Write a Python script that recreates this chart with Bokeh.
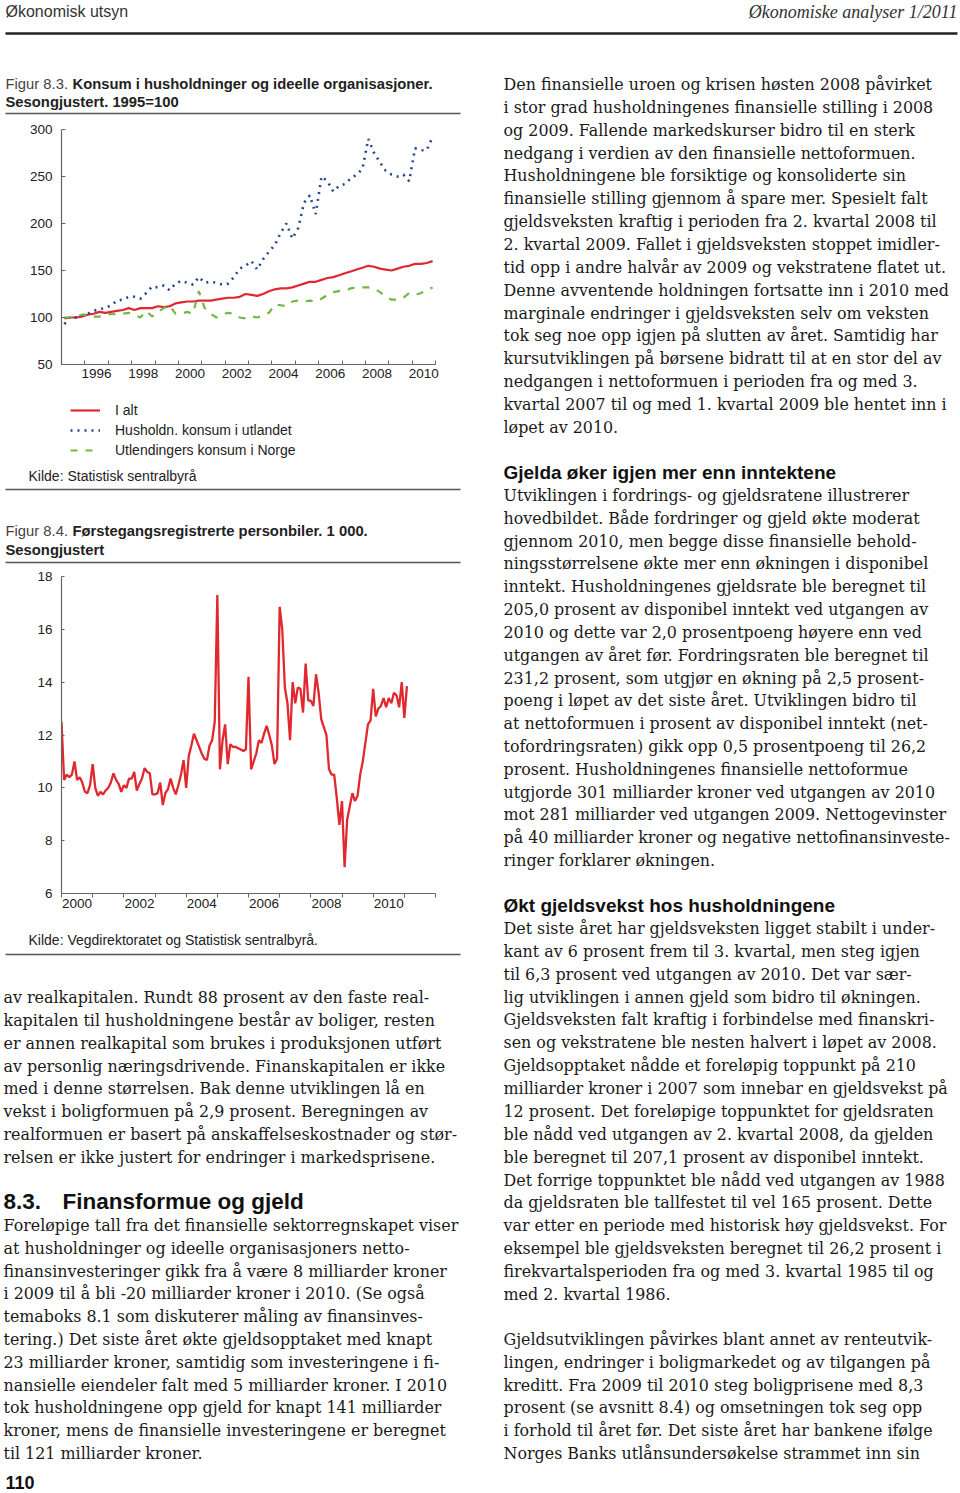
import numpy as np
from bokeh.plotting import figure
from bokeh.models import Range1d, FixedTicker, Legend, LegendItem, CustomJSTickFormatter
from bokeh.layouts import column, row
from bokeh.core.properties import value
from bokeh.embed import file_html
from bokeh.resources import INLINE

# ---------------- DATA ----------------
# Figur 8.3: quarterly, 1995Q1-2010Q4, 1995=100
q_start_year = 1995
i_alt = [99, 100, 100, 101,
         103, 104, 106, 105,
         106, 107, 108, 110,
         108, 110, 110, 110,
         112, 111, 112, 115,
         116, 117, 117, 118,
         118, 118, 119, 120,
         121, 121, 122, 125,
         124, 123, 125, 128,
         130, 131, 131, 132,
         134, 136, 138, 138,
         140, 142, 143, 145,
         147, 149, 151, 153,
         155, 154, 152, 151,
         150, 152, 154, 155,
         157, 157, 158, 160]
husholdn_utland = [93, 101, 100, 102,
                   104, 107, 109, 110,
                   113, 118, 119, 122,
                   122, 120, 126, 133,
                   132, 134, 129, 136,
                   139, 137, 135, 143,
                   137, 138, 137, 135,
                   136, 143, 152, 155,
                   160, 151, 162, 170,
                   177, 190, 200, 184,
                   195, 222, 230, 210,
                   250, 245, 234, 240,
                   242, 248, 252, 258,
                   290, 275, 265, 256,
                   252, 250, 252, 245,
                   280, 278, 278, 292]
utlendinger_norge = [100, 100, 101, 103,
                     103, 101, 101, 102,
                     104, 103, 104, 105,
                     103, 100, 107, 101,
                     106, 110, 113, 104,
                     104, 106, 104, 128,
                     110, 104, 100, 103,
                     105, 104, 100, 99,
                     101, 100, 102, 105,
                     114, 113, 112, 117,
                     118, 117, 118, 117,
                     120, 124, 127, 128,
                     128, 131, 132, 132,
                     132, 131, 127, 122,
                     119, 119, 121, 126,
                     124, 126, 129, 132]
c1_series_names = ["I alt", "Husholdn. konsum i utlandet", "Utlendingers konsum i Norge"]
c1_label_years = [1996, 1998, 2000, 2002, 2004, 2006, 2008, 2010]
c1_year_ticks = list(range(1995, 2012))
c1_y_ticks = [50, 100, 150, 200, 250, 300]

# Figur 8.4: monthly, from January 2000, 1 000 cars
m_start_year = 2000
personbiler = [12.5, 10.3, 10.5, 10.4, 10.5, 11.0, 10.3, 10.4, 10.2, 9.85, 9.8, 10.1,
               10.9, 10.0, 9.7, 9.85, 9.75, 9.9, 10.0, 10.2, 10.55, 10.3, 10.15, 9.85,
               10.1, 10.0, 10.35, 10.35, 10.6, 9.9, 10.15, 10.35, 10.75, 10.6, 10.55, 9.75,
               9.75, 9.8, 10.2, 9.35, 9.8, 9.95, 10.35, 10.0, 9.75, 10.1, 10.5, 11.05,
               10.0, 11.2, 11.6, 12.05, 11.8, 11.55, 11.3, 11.1, 11.05, 11.6, 11.8, 12.5,
               17.3, 10.7, 11.8, 12.4, 10.9, 11.65, 11.55, 11.55, 11.5, 11.45, 11.4, 11.45,
               14.2, 10.7, 11.0, 11.3, 11.8, 11.7, 12.05, 12.35, 12.0, 11.6, 10.9, 11.1,
               16.85, 16.0, 13.8, 13.2, 11.8, 14.0, 13.2, 13.8, 13.75, 12.85, 14.7, 13.3,
               13.3, 13.1, 14.3, 13.6, 12.6, 12.3, 12.0, 10.7, 10.5, 10.5, 9.6, 8.6,
               9.5, 7.0, 8.8, 9.3, 9.8, 9.5, 9.7, 10.5, 11.0, 11.7, 12.4, 12.55,
               13.75, 12.7, 13.0, 13.1, 13.4, 13.05, 13.4, 13.2, 13.6, 13.5, 13.05, 14.0,
               12.65, 13.85]
c2_label_years = [2000, 2002, 2004, 2006, 2008, 2010]
c2_year_ticks = list(range(2000, 2013))
c2_y_ticks = [6, 8, 10, 12, 14, 16, 18]

# ---------------- TEXT ----------------
header_left = "Økonomisk utsyn"
header_right = "Økonomiske analyser 1/2011"
fig83_num = "Figur 8.3."
fig83_title = ["Konsum i husholdninger og ideelle organisasjoner.", "Sesongjustert. 1995=100"]
fig83_source = "Kilde: Statistisk sentralbyrå"
fig84_num = "Figur 8.4."
fig84_title = ["Førstegangsregistrerte personbiler. 1 000.", "Sesongjustert"]
fig84_source = "Kilde: Vegdirektoratet og Statistisk sentralbyrå."

left_para1 = [
    "av realkapitalen. Rundt 88 prosent av den faste real-",
    "kapitalen til husholdningene består av boliger, resten",
    "er annen realkapital som brukes i produksjonen utført",
    "av personlig næringsdrivende. Finanskapitalen er ikke",
    "med i denne størrelsen. Bak denne utviklingen lå en",
    "vekst i boligformuen på 2,9 prosent. Beregningen av",
    "realformuen er basert på anskaffelseskostnader og stør-",
    "relsen er ikke justert for endringer i markedsprisene.",
]
section_num = "8.3."
section_title = "Finansformue og gjeld"
left_para2 = [
    "Foreløpige tall fra det finansielle sektorregnskapet viser",
    "at husholdninger og ideelle organisasjoners netto-",
    "finansinvesteringer gikk fra å være 8 milliarder kroner",
    "i 2009 til å bli -20 milliarder kroner i 2010. (Se også",
    "temaboks 8.1 som diskuterer måling av finansinves-",
    "tering.) Det siste året økte gjeldsopptaket med knapt",
    "23 milliarder kroner, samtidig som investeringene i fi-",
    "nansielle eiendeler falt med 5 milliarder kroner. I 2010",
    "tok husholdningene opp gjeld for knapt 141 milliarder",
    "kroner, mens de finansielle investeringene er beregnet",
    "til 121 milliarder kroner.",
]
page_number = "110"

right_para1 = [
    "Den finansielle uroen og krisen høsten 2008 påvirket",
    "i stor grad husholdningenes finansielle stilling i 2008",
    "og 2009. Fallende markedskurser bidro til en sterk",
    "nedgang i verdien av den finansielle nettoformuen.",
    "Husholdningene ble forsiktige og konsoliderte sin",
    "finansielle stilling gjennom å spare mer. Spesielt falt",
    "gjeldsveksten kraftig i perioden fra 2. kvartal 2008 til",
    "2. kvartal 2009. Fallet i gjeldsveksten stoppet imidler-",
    "tid opp i andre halvår av 2009 og vekstratene flatet ut.",
    "Denne avventende holdningen fortsatte inn i 2010 med",
    "marginale endringer i gjeldsveksten selv om veksten",
    "tok seg noe opp igjen på slutten av året. Samtidig har",
    "kursutviklingen på børsene bidratt til at en stor del av",
    "nedgangen i nettoformuen i perioden fra og med 3.",
    "kvartal 2007 til og med 1. kvartal 2009 ble hentet inn i",
    "løpet av 2010.",
]
right_head2 = "Gjelda øker igjen mer enn inntektene"
right_para2 = [
    "Utviklingen i fordrings- og gjeldsratene illustrerer",
    "hovedbildet. Både fordringer og gjeld økte moderat",
    "gjennom 2010, men begge disse finansielle behold-",
    "ningsstørrelsene økte mer enn økningen i disponibel",
    "inntekt. Husholdningenes gjeldsrate ble beregnet til",
    "205,0 prosent av disponibel inntekt ved utgangen av",
    "2010 og dette var 2,0 prosentpoeng høyere enn ved",
    "utgangen av året før. Fordringsraten ble beregnet til",
    "231,2 prosent, som utgjør en økning på 2,5 prosent-",
    "poeng i løpet av det siste året. Utviklingen bidro til",
    "at nettoformuen i prosent av disponibel inntekt (net-",
    "tofordringsraten) gikk opp 0,5 prosentpoeng til 26,2",
    "prosent. Husholdningenes finansielle nettoformue",
    "utgjorde 301 milliarder kroner ved utgangen av 2010",
    "mot 281 milliarder ved utgangen 2009. Nettogevinster",
    "på 40 milliarder kroner og negative nettofinansinveste-",
    "ringer forklarer økningen.",
]
right_head3 = "Økt gjeldsvekst hos husholdningene"
right_para3 = [
    "Det siste året har gjeldsveksten ligget stabilt i under-",
    "kant av 6 prosent frem til 3. kvartal, men steg igjen",
    "til 6,3 prosent ved utgangen av 2010. Det var sær-",
    "lig utviklingen i annen gjeld som bidro til økningen.",
    "Gjeldsveksten falt kraftig i forbindelse med finanskri-",
    "sen og vekstratene ble nesten halvert i løpet av 2008.",
    "Gjeldsopptaket nådde et foreløpig toppunkt på 210",
    "milliarder kroner i 2007 som innebar en gjeldsvekst på",
    "12 prosent. Det foreløpige toppunktet for gjeldsraten",
    "ble nådd ved utgangen av 2. kvartal 2008, da gjelden",
    "ble beregnet til 207,1 prosent av disponibel inntekt.",
    "Det forrige toppunktet ble nådd ved utgangen av 1988",
    "da gjeldsraten ble tallfestet til vel 165 prosent. Dette",
    "var etter en periode med historisk høy gjeldsvekst. For",
    "eksempel ble gjeldsveksten beregnet til 26,2 prosent i",
    "firekvartalsperioden fra og med 3. kvartal 1985 til og",
    "med 2. kvartal 1986.",
]
right_para4 = [
    "Gjeldsutviklingen påvirkes blant annet av renteutvik-",
    "lingen, endringer i boligmarkedet og av tilgangen på",
    "kreditt. Fra 2009 til 2010 steg boligprisene med 8,3",
    "prosent (se avsnitt 8.4) og omsetningen tok seg opp",
    "i forhold til året før. Det siste året har bankene ifølge",
    "Norges Banks utlånsundersøkelse strammet inn sin",
]

# ---------------- STYLE ----------------
SANS = "Liberation Sans"
SERIF = "DejaVu Serif"
BODY_SIZE = "15.9px"
BODY_COLOR = "#1a1a1a"
PITCH = 22.86
RED = "#e0282e"
BLUE = "#24468e"
GREEN = "#72b844"
AXIS_COLOR = "#666666"

W = 960
H = 1493
HEAD_H = 60
LEFT_W = 470
RIGHT_W = W - LEFT_W
# shared horizontal borders of every figure in the left column (chart frames)
BL = 61
BR = 35


def canvas(w, h, bl=0, br=0):
    # data units == pixel units of the figure (frame spans bl .. w-br)
    p = figure(width=w, height=h, x_range=Range1d(bl, w - br), y_range=Range1d(h, 0),
               x_axis_location=None, y_axis_location=None, toolbar_location=None,
               output_backend="svg", min_border_left=bl, min_border_right=br,
               min_border_top=0, min_border_bottom=0, outline_line_color=None)
    p.grid.visible = False
    p.background_fill_color = "white"
    p.border_fill_color = "white"
    return p


def put(p, x, y, txt, font=SERIF, size=BODY_SIZE, style="normal", color=BODY_COLOR, align="left"):
    p.text(x=[x], y=[y], text=[txt], text_font=value(font), text_font_size=size,
           text_font_style=style, text_color=color, text_align=align, text_baseline="middle",
           level="annotation")


def para(p, x, y0, lines, pitch=PITCH):
    n = len(lines)
    p.text(x=[x] * n, y=[y0 + k * pitch for k in range(n)], text=lines,
           text_font=value(SERIF), text_font_size=BODY_SIZE, text_color=BODY_COLOR,
           text_align="left", text_baseline="middle", level="annotation")


def rule(p, x0, x1, y, width=1.3, color="#555555"):
    p.segment(x0=[x0], y0=[y], x1=[x1], y1=[y], line_width=width, line_color=color,
              level="annotation")


def style_axes(p):
    p.grid.visible = False
    for ax in p.axis:
        ax.axis_line_color = AXIS_COLOR
        ax.axis_line_width = 1.2
        ax.major_tick_line_color = AXIS_COLOR
        ax.minor_tick_line_color = AXIS_COLOR
        ax.major_label_text_font = SANS
        ax.major_label_text_font_size = "13.5px"
        ax.major_label_text_color = "#222222"


# ---------------- HEADER ----------------
head = canvas(W, HEAD_H)
put(head, 5, 11, header_left, font=SANS, size="16px", color="#333333")
put(head, 957, 11, header_right, font="Liberation Serif", size="18px", style="italic",
    color="#333333", align="right")
rule(head, 5, 957, 33, width=2.4, color="#222222")

# ---------------- LEFT COLUMN ----------------
# A: title of figure 8.3 (y 60..118)
pa = canvas(LEFT_W, 58, BL, BR)
put(pa, 5, 23, fig83_num, font=SANS, size="14.8px", color="#444444")
put(pa, 72, 23, fig83_title[0], font=SANS, size="14.8px", style="bold", color="#222222")
put(pa, 5, 41, fig83_title[1], font=SANS, size="14.8px", style="bold", color="#222222")
rule(pa, 5, 460, 53)

# B: chart 8.3 (y 118..392)
p1 = figure(width=LEFT_W, height=274, x_range=Range1d(1995, 2011), y_range=Range1d(50, 300),
            toolbar_location=None, output_backend="svg", outline_line_color=None,
            min_border_left=BL, min_border_right=BR, min_border_top=11, min_border_bottom=28)
xq = q_start_year + (np.arange(len(i_alt)) + 0.5) / 4.0
p1.line(xq, i_alt, line_color=RED, line_width=2.2)
p1.line(xq, husholdn_utland, line_color=BLUE, line_width=2.6, line_dash="2 5")
p1.line(xq, utlendinger_norge, line_color=GREEN, line_width=2.2, line_dash="7 8")
style_axes(p1)
p1.xaxis.ticker = FixedTicker(ticks=[y + 0.5 for y in c1_label_years], minor_ticks=c1_year_ticks)
p1.xaxis.formatter = CustomJSTickFormatter(code="return Math.floor(tick).toString();")
p1.xaxis.major_tick_in = 0
p1.xaxis.major_tick_out = 0
p1.xaxis.minor_tick_in = 4
p1.xaxis.minor_tick_out = 0
p1.xaxis.major_label_standoff = 4
p1.yaxis.ticker = FixedTicker(ticks=c1_y_ticks)
p1.yaxis.major_tick_in = 4
p1.yaxis.major_tick_out = 0
p1.yaxis.minor_tick_line_color = None
p1.yaxis.major_label_standoff = 9

# C: legend, source, title 8.4 (y 392..568)
pc = canvas(LEFT_W, 176, BL, BR)
nan2 = [np.nan, np.nan]
l1 = pc.line(x=nan2, y=nan2, line_color=RED, line_width=2.2)
l2 = pc.line(x=nan2, y=nan2, line_color=BLUE, line_width=2.6, line_dash="2 5")
l3 = pc.line(x=nan2, y=nan2, line_color=GREEN, line_width=2.2, line_dash="7 8")
legend = Legend(items=[LegendItem(label=c1_series_names[0], renderers=[l1]),
                       LegendItem(label=c1_series_names[1], renderers=[l2]),
                       LegendItem(label=c1_series_names[2], renderers=[l3])],
                location=(70 - BL, 108), orientation="vertical", glyph_width=30, glyph_height=20,
                label_height=20, label_standoff=15, spacing=0, padding=0, margin=0,
                border_line_color=None, background_fill_alpha=0,
                label_text_font=SANS, label_text_font_size="14px", label_text_color="#222222")
pc.add_layout(legend)
put(pc, 28, 83, fig83_source, font=SANS, size="14px", color="#222222")
rule(pc, 5, 460, 97)
put(pc, 5, 138, fig84_num, font=SANS, size="14.8px", color="#444444")
put(pc, 72, 138, fig84_title[0], font=SANS, size="14.8px", style="bold", color="#222222")
put(pc, 5, 157, fig84_title[1], font=SANS, size="14.8px", style="bold", color="#222222")
rule(pc, 5, 460, 170)

# D: chart 8.4 (y 568..918)
p2 = figure(width=LEFT_W, height=350, x_range=Range1d(2000, 2012), y_range=Range1d(6, 18),
            toolbar_location=None, output_backend="svg", outline_line_color=None,
            min_border_left=BL, min_border_right=BR, min_border_top=8, min_border_bottom=25)
xm = m_start_year + np.arange(len(personbiler)) / 12.0
p2.line(xm, personbiler, line_color=RED, line_width=2.3)
style_axes(p2)
p2.xaxis.ticker = FixedTicker(ticks=[y + 0.5 for y in c2_label_years], minor_ticks=c2_year_ticks)
p2.xaxis.formatter = CustomJSTickFormatter(code="return Math.floor(tick).toString();")
p2.xaxis.major_tick_in = 0
p2.xaxis.major_tick_out = 0
p2.xaxis.minor_tick_in = 0
p2.xaxis.minor_tick_out = 4
p2.xaxis.major_label_standoff = 1
p2.yaxis.ticker = FixedTicker(ticks=c2_y_ticks)
p2.yaxis.major_tick_in = 3
p2.yaxis.major_tick_out = 0
p2.yaxis.minor_tick_line_color = None
p2.yaxis.major_label_standoff = 9

# E: source 8.4 and body text (y 918..1493)
pe = canvas(LEFT_W, 575, BL, BR)
put(pe, 28, 21, fig84_source, font=SANS, size="14px", color="#222222")
rule(pe, 5, 460, 36)
para(pe, 3, 79, left_para1)
put(pe, 3, 283, section_num, font=SANS, size="22.5px", style="bold", color="#111111")
put(pe, 62, 283, section_title, font=SANS, size="22.5px", style="bold", color="#111111")
para(pe, 3, 307, left_para2, pitch=22.8)
put(pe, 5, 564, page_number, font=SANS, size="18px", style="bold", color="#111111")

left_col = column(pa, p1, pc, p2, pe, spacing=0)

# ---------------- RIGHT COLUMN ----------------
pr = canvas(RIGHT_W, H - HEAD_H)
RX = 33
para(pr, RX, 24, right_para1)
put(pr, RX, 412, right_head2, font=SANS, size="19px", style="bold", color="#111111")
para(pr, RX, 435, right_para2, pitch=22.82)
put(pr, RX, 845, right_head3, font=SANS, size="19px", style="bold", color="#111111")
para(pr, RX, 868, right_para3, pitch=22.87)
para(pr, RX, 1279, right_para4, pitch=22.8)

layout = column(head, row(left_col, pr, spacing=0), spacing=0)

open("out.html", "w").write(file_html(layout, INLINE))
